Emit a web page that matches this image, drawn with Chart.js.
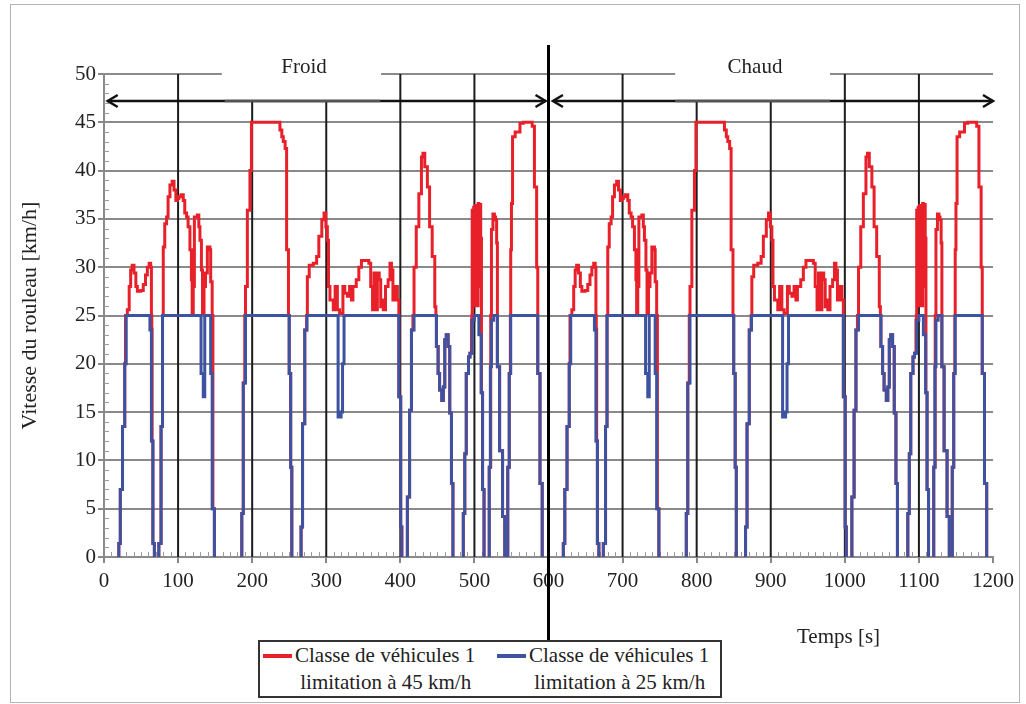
<!DOCTYPE html>
<html>
<head>
<meta charset="utf-8">
<script src="https://cdn.jsdelivr.net/npm/chart.js@4.4.1/dist/chart.umd.min.js"></script>
<style>
  body { margin: 0; background: #fff; }
  #wrap { position: relative; width: 1026px; height: 704px; overflow: hidden; font-family: "Liberation Serif", serif; color: #222; }
  #frame { position: absolute; left: 10px; top: 4px; width: 1008px; height: 697px; border: 1px solid #b4b4b4; }
  canvas { position: absolute; left: 0; top: 0; }
  .lbl { position: absolute; font-size: 21px; line-height: 26px; white-space: nowrap; }
  #legend { position: absolute; left: 258px; top: 640px; width: 460px; height: 54px; border: 2px solid #333; background: #fff; }
  #legend .sw { position: absolute; top: 12px; width: 29px; height: 4px; }
  #legend .tx { position: absolute; top: 0; font-size: 21px; line-height: 27px; white-space: nowrap; }
</style>
</head>
<body>
<div id="wrap">
  <div id="frame"></div>
  <canvas id="speedChart" width="1026" height="704"></canvas>
  <div class="lbl" style="left:264px; top:53px; width:80px; text-align:center;">Froid</div>
  <div class="lbl" style="left:715px; top:53px; width:80px; text-align:center;">Chaud</div>
  <div class="lbl" style="left:797px; top:623px;">Temps [s]</div>
  <div id="legend">
    <span class="sw" style="left:3px; background:#e8202a;"></span>
    <div class="tx" style="left:35px;">Classe de véhicules 1<br>&nbsp;limitation à 45 km/h</div>
    <span class="sw" style="left:237px; background:#3d52a1;"></span>
    <div class="tx" style="left:269px;">Classe de véhicules 1<br>&nbsp;limitation à 25 km/h</div>
  </div>
</div>
<script>
// one test cycle (the same cycle is run cold, then hot)
const phaseStarts = [0, 600];

// vehicle class 1, limited to 45 km/h : time [s] / roller speed [km/h]
const t45 = [
  0, 18, 20, 22, 25, 28, 29, 31.5, 34, 36, 38, 40.5, 43, 45, 49.5, 53, 56, 58.5, 61, 63, 64, 64.5, 65, 66, 68,
  72, 74, 77, 79, 80, 82, 84.5, 86.5, 89, 92, 94.5, 97, 99, 101, 104, 107, 109, 111.5, 113.5, 116, 118, 119,
  120.5, 122, 126, 128, 129.5, 131.5, 133, 135, 137, 139.5, 143, 144, 146, 147, 149,
  184.5, 186, 188, 190, 191, 193.5, 197, 199, 235, 237.5, 240, 242, 244.5, 246.5, 249, 250, 252, 253.5,
  264.5, 266, 268, 271, 273.5, 274.5, 277, 282.5, 287, 290, 294, 297, 299.5, 301.5, 303, 305, 309.5, 312, 315,
  318, 322.5, 325, 328.5, 331.5, 334, 336, 340.5, 344, 347.5, 354, 357.5, 360, 362.5, 364.5, 367, 369, 371.5,
  373.5, 375.5, 377, 380, 383.5, 386, 388, 390, 393.5, 396, 398, 400.5, 402,
  408, 409.5, 412.5, 415, 417, 418.5, 421.5, 425, 428.5, 430.5, 433, 436.5, 439.5, 443, 446.5, 448, 448.7,
  451, 453, 456, 458, 460, 462, 464.5, 466.7, 469, 471,
  483, 485, 487, 489, 492, 494, 496, 496.5, 497, 498, 499, 500, 501, 502, 503, 504, 505, 506, 507, 508.5, 509.5, 511, 513,
  518, 520, 522, 523, 525, 527, 528.5, 530, 531, 534, 538, 541,
  543, 545, 547, 548.5, 549, 550, 551.5, 555, 561.5, 566, 575, 578, 581, 584, 585.5, 588.5, 591.5, 600
];
const v45 = [
  0, 0, 1.4, 7, 13.5, 20, 25, 25.6, 28, 29.7, 30.2, 29.4, 28, 27.5, 27.6, 28.2, 29.2, 30, 30.4, 30, 25, 23.6, 12, 1.4, 0,
  0, 1.4, 13.5, 25, 32.1, 34.5, 35.2, 37.3, 38.5, 38.9, 38, 36.9, 37.1, 37.3, 37.5, 36.9, 35.6, 35.2, 34.2, 31.8, 28.7, 25.2,
  28, 35.2, 35.4, 34.2, 32.8, 29.7, 25.2, 28, 29.4, 32.1, 31.8, 28.5, 25, 5, 0,
  0, 4.5, 18, 25, 28, 35.9, 40, 45, 45, 44.2, 43.5, 43, 42.3, 31.8, 25, 19, 9.3, 0,
  0, 3.1, 13.8, 23.5, 25, 29, 30.2, 30.4, 31.1, 33.2, 34.9, 35.6, 34.2, 32.8, 28, 26.6, 25.6, 28, 25.6,
  25.2, 28, 27.3, 27, 28, 26.6, 28, 28.7, 30, 30.7, 30.7, 30.4, 28, 25.6, 29.4, 25.6, 29.4, 28.7,
  25.9, 26.6, 25.6, 28, 28.7, 30.4, 29.7, 26.6, 28, 26.6, 16.6, 3.1, 0,
  0, 6.2, 15.2, 23.5, 25, 30, 34.2, 37.6, 41.4, 41.8, 40.4, 38.3, 34.2, 31.1, 25.9, 25, 21.8,
  19, 17.3, 16.2, 17.6, 22.5, 23, 21.8, 14.9, 7.6, 0,
  0, 4.5, 10.7, 19, 20.7, 21.1, 24.5, 25, 35.9, 27, 36.2, 26, 36.4, 29, 36.3, 26, 36.6, 28, 36.5, 33, 17, 7, 0,
  0, 9.3, 25, 33.9, 35.5, 35.2, 34.9, 32.5, 19.7, 11, 4.2, 0,
  0, 9.3, 19, 25, 31.8, 36.6, 43.5, 44, 44.9, 45, 45, 44.6, 38.3, 30, 19, 7.6, 0, 0
];

// vehicle class 1, limited to 25 km/h
const t25 = [
  0, 18, 20, 22, 25, 28, 30, 61, 62, 64, 66, 68, 72, 74, 77, 79, 130, 131, 134, 136, 142, 144, 146, 149,
  184.5, 186, 188, 191, 249, 250, 252, 253.5,
  264.5, 266, 268, 271, 274, 314, 316, 320, 322, 324, 397, 398, 400.5, 402,
  408, 409.5, 412.5, 415, 418.5, 446.5, 448.7, 451, 453, 456, 458, 460, 462, 464.5, 466.7, 469, 471,
  483, 485, 487, 489, 492, 494, 497, 500, 504, 506, 509, 511, 513,
  518, 520, 521.5, 523, 526, 531, 534, 538, 541,
  543, 545, 547, 549, 584, 585.5, 588.5, 591.5, 600
];
const v25 = [
  0, 0, 1.4, 7, 13.5, 20, 25, 25, 23.5, 12, 1.4, 0, 0, 1.4, 13.5, 25, 25, 19, 16.6, 25, 25, 19, 5, 0,
  0, 4.5, 18, 25, 25, 19, 9.3, 0,
  0, 3.1, 13.8, 23.5, 25, 25, 14.5, 15, 20, 25, 25, 16.6, 3.1, 0,
  0, 6.2, 15.2, 23.5, 25, 25, 21.8, 19, 17.3, 16.2, 17.6, 22.5, 23, 21.8, 14.9, 7.6, 0,
  0, 4.5, 10.7, 19, 20.7, 21.1, 24.5, 25, 25, 23, 17, 7, 0,
  0, 9.3, 19.7, 24.5, 25, 19.7, 11, 4.2, 0,
  0, 9.3, 19, 25, 25, 19, 7.6, 0, 0
];

// annotation values (in axis units)
const arrowLevel = 47.2;
const phaseArrows = [[5, 596], [606, 1200]];
const labelGaps = [[163, 373], [771, 980]];
const topGridSegments = [[0, 159], [374, 771], [980, 1200]];
const fullMarkers = [100, 400, 500, 700, 1000, 1100];
const shortMarkers = [200, 300, 800, 900];
const separatorSpan = [53, -8.6];

const red = '#e8202a';
const blue = '#3d52a1';

function buildSeries(times, speeds) {
  const pts = [];
  phaseStarts.forEach(start => {
    times.forEach((t, i) => pts.push({ x: start + t, y: speeds[i] }));
  });
  return pts;
}

// hide the stretches lying on the time axis, as in the original figure
const hideOnAxis = color => ctx => (ctx.p0.parsed.y === 0 && ctx.p1.parsed.y === 0) ? 'rgba(0,0,0,0)' : color;

const decor = {
  id: 'decor',
  beforeDatasetsDraw(chart) {
    const { ctx, chartArea: area, scales: { x, y } } = chart;
    const seg = (x1, y1, x2, y2) => { ctx.beginPath(); ctx.moveTo(x1, y1); ctx.lineTo(x2, y2); ctx.stroke(); };
    ctx.save();
    // minor ticks
    ctx.strokeStyle = '#9a9a9a';
    ctx.lineWidth = 1;
    ctx.beginPath();
    for (let v = 1; v < 50; v++) {
      if (v % 5) {
        const py = Math.round(y.getPixelForValue(v)) + 0.5;
        ctx.moveTo(area.left, py); ctx.lineTo(area.left + 5, py);
      }
    }
    for (let t = 10; t < 1200; t += 10) {
      if (t % 100) {
        const px = Math.round(x.getPixelForValue(t)) + 0.5;
        ctx.moveTo(px, area.bottom); ctx.lineTo(px, area.bottom - 5);
      }
    }
    ctx.stroke();
    // broken top gridline
    ctx.strokeStyle = '#8a8a8a';
    ctx.lineWidth = 2;
    const y50 = y.getPixelForValue(50);
    topGridSegments.forEach(([a, b]) => seg(x.getPixelForValue(a), y50, x.getPixelForValue(b), y50));
    // vertical markers
    ctx.strokeStyle = '#1c1c1c';
    ctx.lineWidth = 2;
    fullMarkers.forEach(t => { const px = x.getPixelForValue(t); seg(px, y50, px, y.getPixelForValue(0)); });
    shortMarkers.forEach(t => { const px = x.getPixelForValue(t); seg(px, y.getPixelForValue(arrowLevel), px, y.getPixelForValue(0)); });
    ctx.restore();
  },
  afterDraw(chart) {
    const { ctx, scales: { x, y } } = chart;
    const seg = (x1, y1, x2, y2) => { ctx.beginPath(); ctx.moveTo(x1, y1); ctx.lineTo(x2, y2); ctx.stroke(); };
    ctx.save();
    const ay = y.getPixelForValue(arrowLevel);
    ctx.strokeStyle = '#111';
    ctx.lineWidth = 2.5;
    phaseArrows.forEach(([a, b]) => {
      const x1 = x.getPixelForValue(a), x2 = x.getPixelForValue(b);
      seg(x1, ay, x2, ay);
      ctx.beginPath(); ctx.moveTo(x1 + 10, ay - 6); ctx.lineTo(x1, ay); ctx.lineTo(x1 + 10, ay + 6); ctx.stroke();
      ctx.beginPath(); ctx.moveTo(x2 - 10, ay - 6); ctx.lineTo(x2, ay); ctx.lineTo(x2 - 10, ay + 6); ctx.stroke();
    });
    ctx.strokeStyle = '#555';
    labelGaps.forEach(([a, b]) => seg(x.getPixelForValue(a), ay, x.getPixelForValue(b), ay));
    // cold / hot separator
    ctx.strokeStyle = '#000';
    ctx.lineWidth = 3;
    const sx = x.getPixelForValue(phaseStarts[1]);
    seg(sx, y.getPixelForValue(separatorSpan[0]), sx, y.getPixelForValue(separatorSpan[1]));
    ctx.restore();
  }
};

Chart.defaults.font.family = '"Liberation Serif", serif';
Chart.defaults.color = '#222';

const speedCanvas = document.getElementById('speedChart');

new Chart(speedCanvas, {
  type: 'line',
  data: {
    datasets: [
      {
        label: 'Classe de véhicules 1 limitation à 25 km/h',
        data: buildSeries(t25, v25),
        borderColor: blue,
        borderWidth: 3,
        pointRadius: 0,
        stepped: 'before',
        segment: { borderColor: hideOnAxis(blue) }
      },
      {
        label: 'Classe de véhicules 1 limitation à 45 km/h',
        data: buildSeries(t45, v45),
        borderColor: red,
        borderWidth: 3,
        pointRadius: 0,
        stepped: 'before',
        segment: { borderColor: hideOnAxis(red) }
      }
    ]
  },
  options: {
    responsive: false,
    animation: false,
    events: [],
    layout: { padding: { left: 0, top: 74, right: 33, bottom: 107 } },
    scales: {
      x: {
        type: 'linear',
        min: 0,
        max: 1200,
        afterFit: s => { s.height = 40; },
        ticks: { stepSize: 100, autoSkip: false, maxRotation: 0, padding: 6, font: { size: 21 }, color: '#222', callback: v => String(v) },
        grid: { drawOnChartArea: false, tickLength: 6, tickColor: '#888', lineWidth: 2 },
        border: { color: '#8a8a8a', width: 2 }
      },
      y: {
        min: 0,
        max: 50,
        afterFit: s => { s.width = 104; },
        ticks: { stepSize: 5, padding: 2, font: { size: 21 }, color: '#222', callback: v => String(v) },
        grid: {
          color: c => (c.tick && c.tick.value === 50) ? 'rgba(0,0,0,0)' : '#8a8a8a',
          tickColor: '#888',
          tickLength: 6,
          lineWidth: 2
        },
        border: { color: '#8a8a8a', width: 2 },
        title: {
          display: true,
          text: 'Vitesse du rouleau [km/h]',
          font: { size: 22 },
          color: '#222',
          padding: { top: 17, bottom: 0 }
        }
      }
    },
    plugins: {
      legend: { display: false },
      tooltip: { enabled: false }
    }
  },
  plugins: [decor]
});
</script>
</body>
</html>
